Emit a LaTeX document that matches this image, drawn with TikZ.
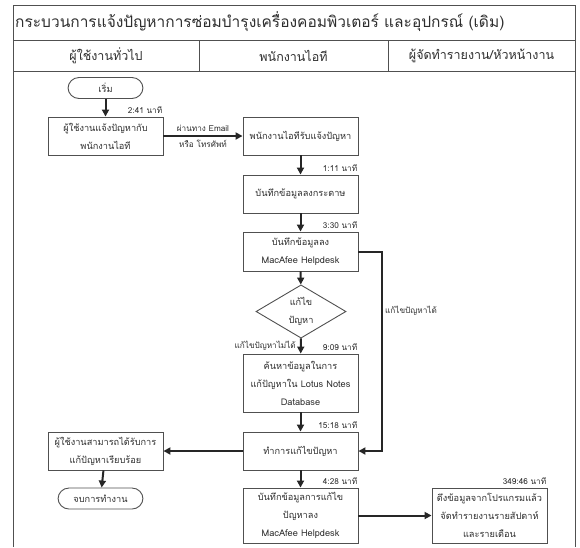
\documentclass[tikz,border=0pt]{standalone}
\usepackage{fontspec}
\setmainfont[Script=Thai]{Loma}
\usetikzlibrary{shapes.geometric,arrows.meta}

\definecolor{ink}{HTML}{2E2E2E}
\definecolor{rule}{HTML}{505050}

\tikzset{
  frame/.style={draw=rule, line width=0.9pt},
  proc/.style={draw=rule, line width=0.9pt, rectangle, minimum width=115pt,
    align=center, inner sep=2pt, text=ink, font=\fontsize{9.2}{18}\selectfont},
  term/.style={draw=rule, line width=0.9pt, rectangle, rounded corners=11pt,
    minimum height=21pt, align=center, text=ink, font=\fontsize{9.2}{18}\selectfont},
  decision/.style={draw=rule, line width=0.9pt, diamond, minimum width=90pt,
    minimum height=53pt, inner sep=0pt, align=center, text=ink,
    font=\fontsize{9.2}{18}\selectfont},
  flow/.style={draw=black!85, line width=2pt, -{Triangle[length=7pt,width=7pt]}},
  tlabel/.style={font=\fontsize{8.2}{10}\selectfont, text=ink, inner sep=1pt},
  timing/.style={tlabel, anchor=south east, yshift=1.5pt},
  lanehead/.style={font=\fontsize{12.5}{14}\selectfont, text=ink},
}

\begin{document}
\begin{tikzpicture}[x=1pt,y=-1pt]
\useasboundingbox (0,0) rectangle (580,547);

% outer frame, title row and lane headers
\draw[frame] (13,547) -- (13,5) -- (575,5) -- (575,547);
\draw[frame] (13,40.5) -- (575,40.5);
\draw[frame] (13,71) -- (575,71);
\draw[frame] (199,40.5) -- (199,71);
\draw[frame] (388,40.5) -- (388,71);

\node[anchor=west, font=\fontsize{15.5}{18}\selectfont, text=ink, inner sep=0pt] (title) at (15,22)
  {กระบวนการแจ้งปัญหาการซ่อมบำรุงเครื่องคอมพิวเตอร์ และอุปกรณ์ (เดิม)};
\node[lanehead] (lane1) at (106,56) {ผู้ใช้งานทั่วไป};
\node[lanehead] (lane2) at (293.5,56) {พนักงานไอที};
\node[lanehead] (lane3) at (481.5,56) {ผู้จัดทำรายงาน/หัวหน้างาน};

% process nodes
\node[term, minimum width=75pt] (start) at (105.5,88) {เริ่ม};
\node[proc, minimum height=38pt] (b1) at (105.5,136) {ผู้ใช้งานแจ้งปัญหากับ\\พนักงานไอที};
\node[proc, minimum height=38pt] (b2) at (300.5,136) {พนักงานไอทีรับแจ้งปัญหา};
\node[proc, minimum height=38pt] (b3) at (300.5,194) {บันทึกข้อมูลลงกระดาษ};
\node[proc, minimum height=39pt] (b4) at (300.5,251.5) {บันทึกข้อมูลลง\\MacAfee Helpdesk};
\node[decision] (d1) at (301,311.5) {แก้ไข\\ปัญหา};
\node[proc, minimum height=58pt] (b5) at (300.5,383) {ค้นหาข้อมูลในการ\\แก้ปัญหาใน Lotus Notes\\Database};
\node[proc, minimum height=38pt] (b6) at (300.5,451) {ทำการแก้ไขปัญหา};
\node[proc, minimum height=38pt] (b7) at (105.5,451) {ผู้ใช้งานสามารถได้รับการ\\แก้ปัญหาเรียบร้อย};
\node[term, minimum width=85pt] (stop) at (100.5,498.5) {จบการทำงาน};
\node[proc, minimum height=55pt] (b8) at (300.5,515.5) {บันทึกข้อมูลการแก้ไข\\ปัญหาลง\\MacAfee Helpdesk};
\node[proc, minimum height=55pt] (b9) at (489.5,515.5) {ดึงข้อมูลจากโปรแกรมแล้ว\\จัดทำรายงานรายสัปดาห์\\และรายเดือน};

% elapsed times
\node[timing] (t1) at (b1.north east) {2:41 นาที};
\node[timing] (t2) at (b3.north east) {1:11 นาที};
\node[timing] (t3) at (b4.north east) {3:30 นาที};
\node[timing] (t4) at (b5.north east) {9:09 นาที};
\node[timing] (t5) at (b6.north east) {15:18 นาที};
\node[timing] (t6) at (b8.north east) {4:28 นาที};
\node[timing] (t7) at (b9.north east) {349:46 นาที};

% connectors
\draw[flow] (start) -- (b1);
\draw[flow] (b1) -- (b2)
  node[midway, above=2pt, tlabel] (via1) {ผ่านทาง Email}
  node[midway, below=2pt, tlabel] (via2) {หรือ โทรศัพท์};
\draw[flow] (b2) -- (b3);
\draw[flow] (b3) -- (b4);
\draw[flow] (b4) -- (d1);
\draw[flow] (d1) -- (b5);
\node[tlabel, anchor=south east] (no) at (297,352) {แก้ไขปัญหาไม่ได้};
\coordinate (fix) at (382,251.5);
\draw[flow] (b4.east) -- (fix) |- (b6.east);
\node[tlabel, anchor=west] (yes) at (384,311) {แก้ไขปัญหาได้};
\draw[flow] (b5) -- (b6);
\draw[flow] (b6) -- (b7);
\draw[flow] (b7) -- (stop);
\draw[flow] (b6) -- (b8);
\draw[flow] (b8) -- (b9);
\end{tikzpicture}
\end{document}
